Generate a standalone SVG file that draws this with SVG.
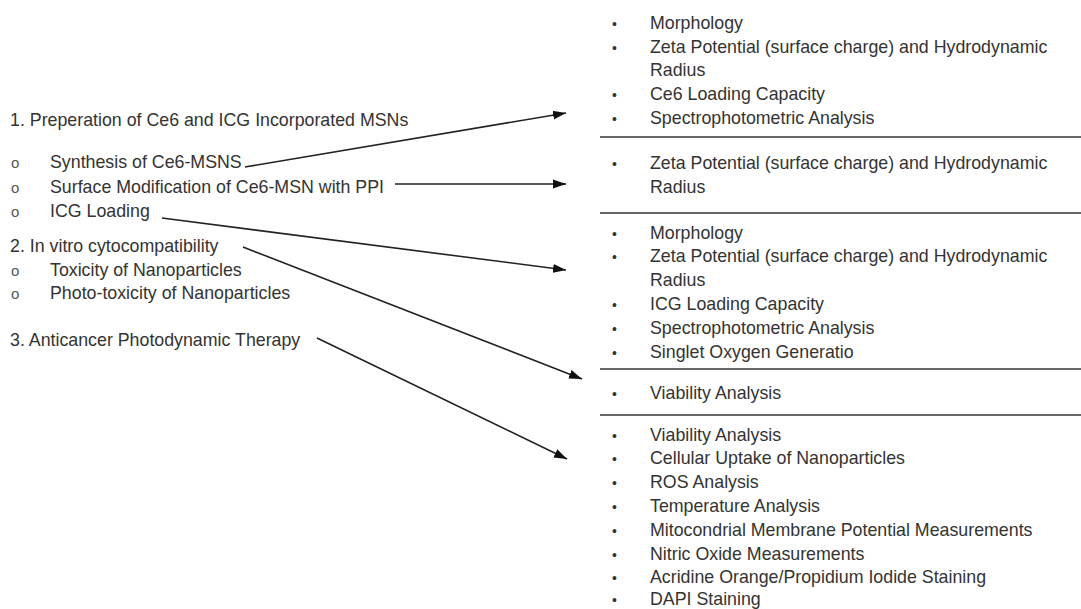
<svg xmlns="http://www.w3.org/2000/svg" width="1081" height="609" viewBox="0 0 1081 609">
<style>
text{font-family:"Liberation Sans",Arial,sans-serif;font-size:17.8px;fill:#333}
.o{font-size:15px;fill:#555}
.b{font-size:14px}
.sep{stroke:#666;stroke-width:2}
.arr{stroke:#222;stroke-width:1.6;fill:none;marker-end:url(#ah)}
</style>
<defs>
<marker id="ah" markerUnits="userSpaceOnUse" markerWidth="14" markerHeight="10" viewBox="0 0 14 10" refX="13" refY="5" orient="auto">
<path d="M0,0.5 L13,5 L0,9.5 Z" fill="#111"/>
</marker>
</defs>
<rect width="1081" height="609" fill="#fff"/>
<g id="left-1">
<text x="10" y="126">1. Preperation of Ce6 and ICG Incorporated MSNs</text>
<text class="o" x="11" y="168">o</text><text x="50" y="168">Synthesis of Ce6-MSNS</text>
<text class="o" x="11" y="192.5">o</text><text x="50" y="192.5">Surface Modification of Ce6-MSN with PPI</text>
<text class="o" x="11" y="217">o</text><text x="50" y="217">ICG Loading</text>
</g>
<g id="left-2">
<text x="10" y="252">2. In vitro cytocompatibility</text>
<text class="o" x="11" y="275.5">o</text><text x="50" y="275.5">Toxicity of Nanoparticles</text>
<text class="o" x="11" y="299">o</text><text x="50" y="299">Photo-toxicity of Nanoparticles</text>
</g>
<g id="left-3">
<text x="10" y="346">3. Anticancer Photodynamic Therapy</text>
</g>
<g id="box-1">
<text class="b" x="612" y="29">•</text><text x="650" y="29">Morphology</text>
<text class="b" x="612" y="52.7">•</text><text x="650" y="52.7">Zeta Potential (surface charge) and Hydrodynamic</text>
<text x="650" y="76.4">Radius</text>
<text class="b" x="612" y="100.1">•</text><text x="650" y="100.1">Ce6 Loading Capacity</text>
<text class="b" x="612" y="123.8">•</text><text x="650" y="123.8">Spectrophotometric Analysis</text>
<line class="sep" x1="600" y1="137" x2="1081" y2="137"/>
</g>
<g id="box-2">
<text class="b" x="612" y="168.5">•</text><text x="650" y="168.5">Zeta Potential (surface charge) and Hydrodynamic</text>
<text x="650" y="192.5">Radius</text>
<line class="sep" x1="600" y1="213" x2="1081" y2="213"/>
</g>
<g id="box-3">
<text class="b" x="612" y="238.5">•</text><text x="650" y="238.5">Morphology</text>
<text class="b" x="612" y="262.3">•</text><text x="650" y="262.3">Zeta Potential (surface charge) and Hydrodynamic</text>
<text x="650" y="286.1">Radius</text>
<text class="b" x="612" y="309.9">•</text><text x="650" y="309.9">ICG Loading Capacity</text>
<text class="b" x="612" y="333.7">•</text><text x="650" y="333.7">Spectrophotometric Analysis</text>
<text class="b" x="612" y="357.5">•</text><text x="650" y="357.5">Singlet Oxygen Generatio</text>
<line class="sep" x1="600" y1="369" x2="1081" y2="369"/>
</g>
<g id="box-4">
<text class="b" x="612" y="398.5">•</text><text x="650" y="398.5">Viability Analysis</text>
<line class="sep" x1="600" y1="415" x2="1081" y2="415"/>
</g>
<g id="box-5">
<text class="b" x="612" y="440.5">•</text><text x="650" y="440.5">Viability Analysis</text>
<text class="b" x="612" y="464.3">•</text><text x="650" y="464.3">Cellular Uptake of Nanoparticles</text>
<text class="b" x="612" y="488.1">•</text><text x="650" y="488.1">ROS Analysis</text>
<text class="b" x="612" y="511.9">•</text><text x="650" y="511.9">Temperature Analysis</text>
<text class="b" x="612" y="535.7">•</text><text x="650" y="535.7">Mitocondrial Membrane Potential Measurements</text>
<text class="b" x="612" y="559.5">•</text><text x="650" y="559.5">Nitric Oxide Measurements</text>
<text class="b" x="612" y="583.3">•</text><text x="650" y="583.3">Acridine Orange/Propidium Iodide Staining</text>
<text class="b" x="612" y="605">•</text><text x="650" y="605">DAPI Staining</text>
</g>
<g id="connectors">
<line class="arr" x1="245" y1="167" x2="566" y2="113"/>
<line class="arr" x1="395" y1="184" x2="566" y2="184"/>
<line class="arr" x1="162" y1="218" x2="566" y2="270"/>
<line class="arr" x1="243" y1="247" x2="582" y2="379"/>
<line class="arr" x1="317" y1="338" x2="567" y2="459"/>
</g>
</svg>
